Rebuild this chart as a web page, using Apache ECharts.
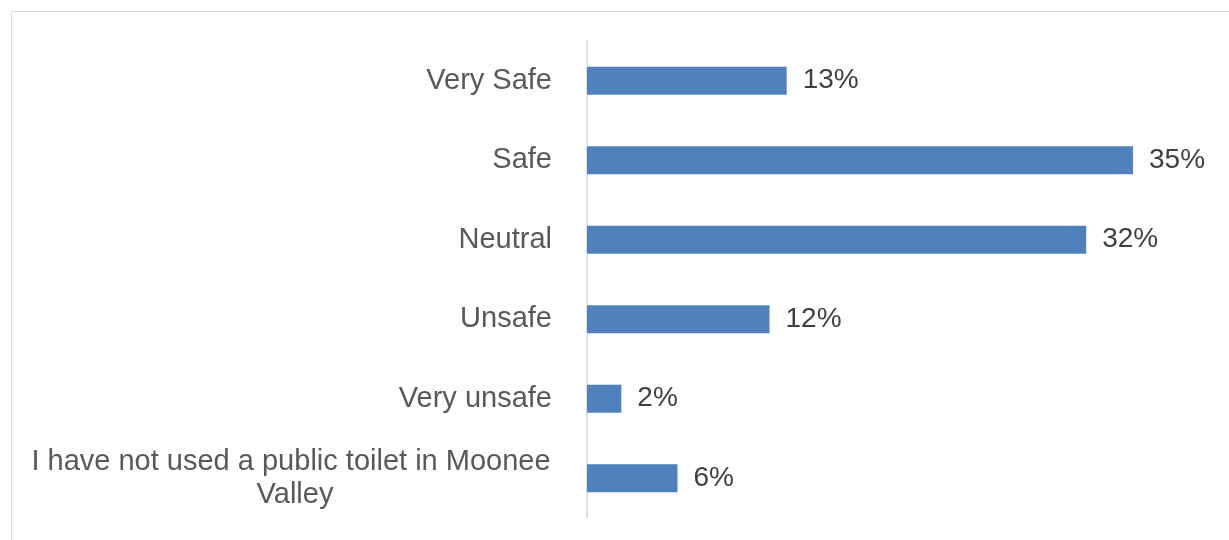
<!DOCTYPE html>
<html>
<head>
<meta charset="utf-8">
<title>Public toilet safety</title>
<script src="https://cdn.jsdelivr.net/npm/echarts@6/dist/echarts.min.js"></script>
<style>
  html, body { margin: 0; padding: 0; background: #fff; }
  #chart { width: 1229px; height: 540px; }
</style>
</head>
<body>
<div id="chart"></div>
<script>
// categories top to bottom, bar lengths (labels are rounded)
const categories = [
    'Very Safe',
    'Safe',
    'Neutral',
    'Unsafe',
    'Very unsafe',
    'I have not used a public toilet in Moonee Valley'
];
const shares = [12.8, 35.0, 32.0, 11.7, 2.2, 5.8];

const chart = echarts.init(document.getElementById('chart'));

chart.setOption({
    animation: false,
    backgroundColor: '#fff',
    textStyle: { fontFamily: 'Liberation Sans, Arial, sans-serif' },
    graphic: [{
        type: 'rect',
        shape: { x: 11.5, y: 11.5, width: 1240, height: 560 },
        style: { fill: 'none', stroke: '#d9d9d9', lineWidth: 1 },
        silent: true
    }],
    grid: { left: 587, right: 18, top: 41, bottom: 22 },
    xAxis: {
        type: 'value',
        min: 0,
        max: 40,
        show: false
    },
    yAxis: {
        type: 'category',
        data: categories,
        inverse: true,
        axisLine: { show: true, lineStyle: { color: '#d9d9d9', width: 1.5 } },
        axisTick: { show: false },
        axisLabel: {
            margin: 35,
            width: 522,
            overflow: 'break',
            lineHeight: 33,
            // long label wraps and is centred, short ones sit right-aligned
            formatter: v => (v.length > 30 ? '{c|' + v + '}' : '{r|' + v + '}'),
            rich: {
                c: { align: 'center', fontSize: 29, color: '#595959', lineHeight: 33 },
                r: { align: 'right', fontSize: 29, color: '#595959', lineHeight: 33 }
            }
        }
    },
    series: [{
        type: 'bar',
        data: shares,
        barWidth: 28,
        itemStyle: { color: '#4f81bd' },
        label: {
            show: true,
            position: 'right',
            distance: 16,
            fontSize: 28,
            color: '#404040',
            formatter: p => Math.round(p.value) + '%'
        }
    }]
});
</script>
</body>
</html>
